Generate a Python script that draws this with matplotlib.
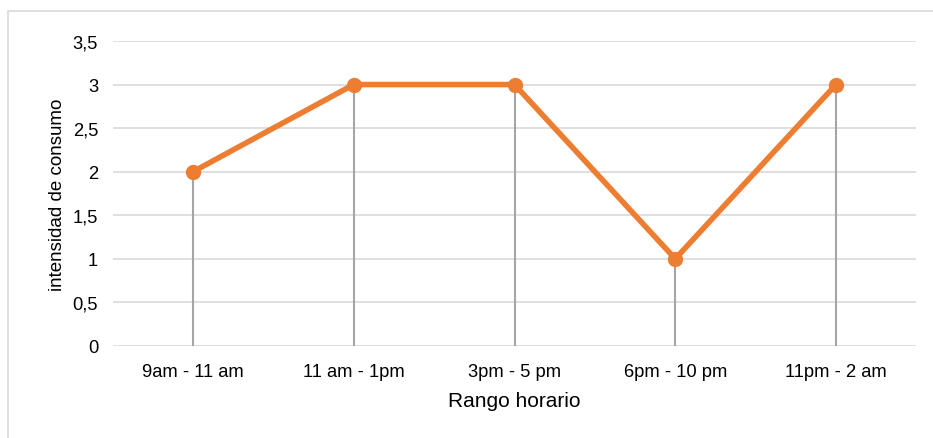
import matplotlib
matplotlib.use("Agg")
from matplotlib import pyplot as plt
from matplotlib.patches import Rectangle

# data
categories = ["9am - 11 am", "11 am - 1pm", "3pm - 5 pm", "6pm - 10 pm", "11pm - 2 am"]
values = [2, 3, 3, 1, 3]
y_ticks = [0, 0.5, 1, 1.5, 2, 2.5, 3, 3.5]
y_tick_labels = ["0", "0,5", "1", "1,5", "2", "2,5", "3", "3,5"]

plt.rcParams['font.family'] = ['Liberation Sans', 'DejaVu Sans']

fig = plt.figure(figsize=(9.33, 4.39), dpi=100)
# light frame around the chart (right/bottom sides run off the image)
fig.patches.append(Rectangle((8/933, -0.1), 1.2, 1 - 12/439 + 0.1,
                             transform=fig.transFigure, fill=False,
                             edgecolor="#d9d9d9", linewidth=1.2))
ax = fig.add_axes([0.1207, 0.2096, 0.8615, 0.6948])

x = list(range(len(categories)))
ax.vlines(x, 0, values, color="#a5a5a5", linewidth=1.5, zorder=2)
ax.plot(x, values, color="#ED7D31", linewidth=4, marker="o", markersize=10,
        solid_capstyle="round", zorder=3)

ax.set_xlim(-0.5, len(categories) - 0.5)
ax.set_ylim(0, 3.5)
ax.set_yticks(y_ticks)
ax.set_yticklabels(y_tick_labels)
ax.set_xticks(x)
ax.set_xticklabels(categories, va="baseline")
ax.grid(axis="y", color="#d9d9d9", linewidth=1.2, zorder=0)
ax.set_axisbelow(True)
for s in ax.spines.values():
    s.set_visible(False)
ax.tick_params(axis="both", length=0, labelsize=13.2, colors="#000000")
ax.tick_params(axis="y", pad=10.5)
ax.tick_params(axis="x", pad=21.6)

ax.set_xlabel("Rango horario", fontsize=15, va="baseline")
ax.xaxis.set_label_coords(0.5, -0.197)
ax.set_ylabel("intensidad de consumo", fontsize=13.5, va="baseline")
ax.yaxis.set_label_coords(-0.063, 0.5)

fig.savefig("out.png", dpi=100)
